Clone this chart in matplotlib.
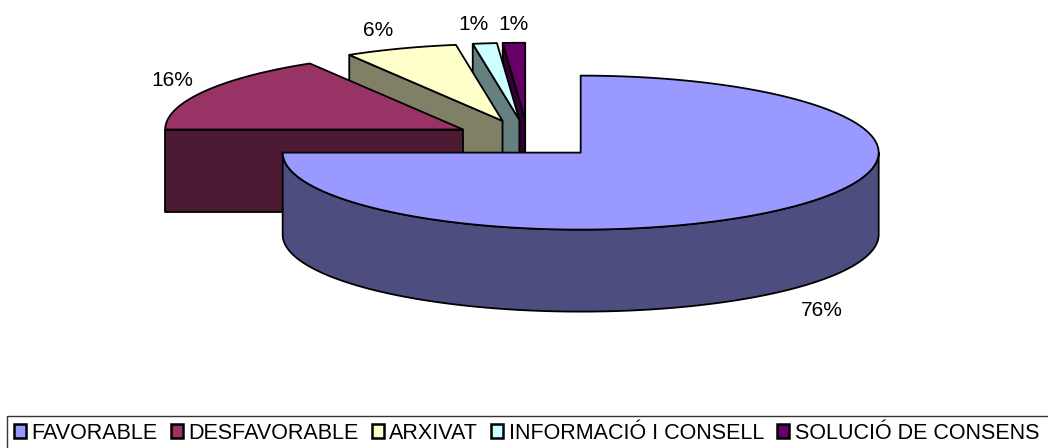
import numpy as np
import matplotlib
matplotlib.use("Agg")
import matplotlib.pyplot as plt
from matplotlib.patches import Polygon, Patch, Rectangle

plt.rcParams['font.family'] = ['Liberation Sans', 'DejaVu Sans']

categories = ["FAVORABLE", "DESFAVORABLE", "ARXIVAT", "INFORMACIÓ I CONSELL", "SOLUCIÓ DE CONSENS"]
shares = [75.0, 16.4, 6.1, 1.3, 1.2]
pct_labels = ["76%", "16%", "6%", "1%", "1%"]
top_colors = ["#9999FF", "#993366", "#FFFFCC", "#CCFFFF", "#660066"]
side_colors = ["#4D4D80", "#4D1A33", "#808066", "#668080", "#330033"]
label_pos = [(822, 310), (172, 81), (378, 31), (474, 24), (513, 24)]

W, H = 1048, 448
CX, CY = 528.0, 139.0
RX, RY = 298.0, 77.0
DEPTH = 82.0
EXPLODE = 0.25
EDGE = "#000000"
LW = 1.3

fig = plt.figure(figsize=(W / 100, H / 100), dpi=100, facecolor="white")
ax = fig.add_axes([0, 0, 1, 1])
ax.set_xlim(0, W)
ax.set_ylim(H, 0)
ax.axis("off")


def pt(cx, cy, deg):
    t = np.radians(deg)
    return cx + RX * np.sin(t), cy - RY * np.cos(t)


edges = np.concatenate([[0], np.cumsum(shares)]) * 3.6
for i in range(len(shares) - 1, -1, -1):
    a0, a1 = edges[i], edges[i + 1]
    mid = np.radians((a0 + a1) / 2)
    cx = CX + EXPLODE * RX * np.sin(mid)
    cy = CY - EXPLODE * RY * np.cos(mid)
    # cut face at the start of the slice
    if 180 < a0 < 360:
        x, y = pt(cx, cy, a0)
        ax.add_patch(Polygon([(x, y), (cx, cy), (cx, cy + DEPTH), (x, y + DEPTH)],
                             closed=True, fc=side_colors[i], ec=EDGE, lw=LW, joinstyle="round"))
    # outer wall, front half only
    w0, w1 = max(a0, 90), min(a1, 270)
    if w1 > w0:
        th = np.linspace(w0, w1, 160)
        xs, ys = pt(cx, cy, th)
        poly = list(zip(xs, ys)) + list(zip(xs[::-1], ys[::-1] + DEPTH))
        ax.add_patch(Polygon(poly, closed=True, fc=side_colors[i], ec=EDGE, lw=LW, joinstyle="round"))
    # top face
    th = np.linspace(a0, a1, 240)
    xs, ys = pt(cx, cy, th)
    poly = [(cx, cy)] + list(zip(xs, ys))
    ax.add_patch(Polygon(poly, closed=True, fc=top_colors[i], ec=EDGE, lw=LW, joinstyle="round"))

for s, (x, y) in zip(pct_labels, label_pos):
    ax.text(x, y, s, ha="center", va="center", fontsize=15, color="black")

# legend box runs off the right and bottom edges of the picture
ax.add_patch(Rectangle((6.5, 416), W, H, fc="white", ec="#333333", lw=1.0))

handles = [Patch(fc=c, ec="black", lw=1.8) for c in top_colors]
leg = ax.legend(handles, categories, ncol=5, loc="lower left",
                bbox_to_anchor=(14 / W, 1 - 444 / H), bbox_transform=ax.transAxes,
                fontsize=15.5, frameon=False, borderaxespad=0, borderpad=0,
                handlelength=0.58, handleheight=0.62, handletextpad=0.24,
                columnspacing=0.6, labelspacing=0)

fig.savefig("out.png", dpi=100)
